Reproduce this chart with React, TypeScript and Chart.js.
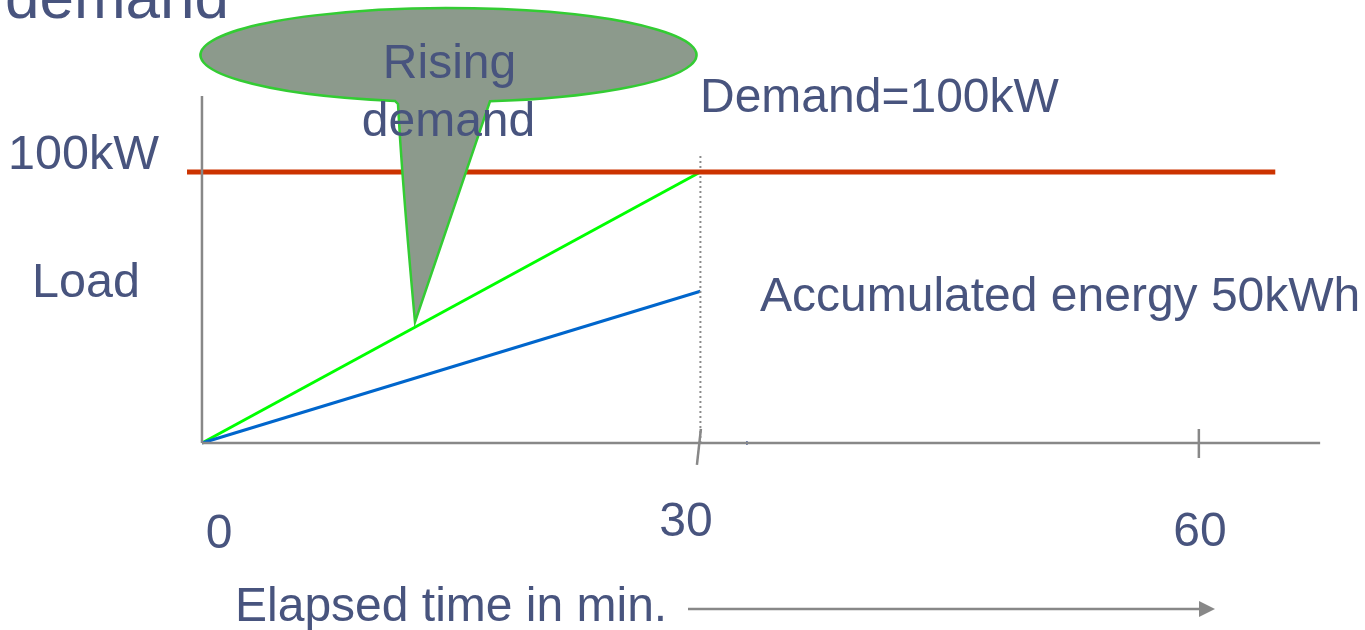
import React, { useEffect, useRef } from "react";
import { Chart, registerables } from "chart.js";

Chart.register(...registerables);

// ---- data (minutes / kW) ----
const tickMinutes = [0, 30, 60];
const tickLabels = ["0", "30", "60"];
const demandLineX = [-0.9, 64.6];
const demandKW = 100;
const risingX = [0, 30];
const risingY = [0, 100];
const energyX = [0, 30];
const energyY = [0, 56];
const markerTop = 106;
const xAxisEnd = 67.3;
const yAxisTop = 128;

// ---- layout (pixels) ----
const W = 1365;
const H = 630;
const PX_ZERO = 202;
const PX_PER_MIN = 16.617;
const PY_ZERO = 443;
const PY_PER_KW = 2.71;
const X_MIN = -12;
const X_MAX = 70;
const Y_MIN = -69;
const Y_MAX = 163.4;

const TEXT = "#48547E";
const GRAY = "#888888";
const FONT = "'Liberation Sans', Arial, sans-serif";

const labels: { t: string; x: number; y: number; size: number; align: CanvasTextAlign }[] = [
  { t: "demand", x: 5, y: 18, size: 62, align: "left" },
  { t: "100kW", x: 8, y: 169, size: 48.5, align: "left" },
  { t: "Load", x: 32, y: 297, size: 48.5, align: "left" },
  { t: "Demand=100kW", x: 700, y: 112, size: 48, align: "left" },
  { t: "Accumulated energy 50kWh", x: 760, y: 311, size: 48, align: "left" },
  { t: "Elapsed time in min.", x: 235, y: 621, size: 48, align: "left" },
];
const tickLabelPos = [
  { x: 219, y: 548 },
  { x: 686, y: 536 },
  { x: 1200, y: 546 },
];

const overlay = {
  id: "overlay",
  afterDatasetsDraw(chart: any) {
    const ctx: CanvasRenderingContext2D = chart.ctx;
    ctx.save();
    // callout bubble
    const cx = 448.5, cy = 55, rx = 248, ry = 47;
    const tip = { x: 415, y: 322 };
    const tL = (102.46 * Math.PI) / 180;
    const tR = (80.37 * Math.PI) / 180;
    ctx.beginPath();
    ctx.moveTo(tip.x, tip.y);
    ctx.quadraticCurveTo(402, 180, 398, 104);
    ctx.lineTo(cx + rx * Math.cos(tL), cy + ry * Math.sin(tL));
    ctx.ellipse(cx, cy, rx, ry, 0, tL, tR + Math.PI * 2, false);
    ctx.lineTo(tip.x, tip.y);
    ctx.closePath();
    ctx.fillStyle = "#8C9A8C";
    ctx.fill();
    ctx.strokeStyle = "#33CC33";
    ctx.lineWidth = 2.5;
    ctx.lineJoin = "miter";
    ctx.stroke();

    ctx.fillStyle = TEXT;
    ctx.textBaseline = "alphabetic";
    ctx.font = `48px ${FONT}`;
    ctx.textAlign = "center";
    ctx.fillText("Rising", 449.5, 78);
    ctx.fillText("demand", 448.5, 136);

    for (const l of labels) {
      ctx.font = `${l.size}px ${FONT}`;
      ctx.textAlign = l.align;
      ctx.fillText(l.t, l.x, l.y);
    }
    ctx.font = `48px ${FONT}`;
    ctx.textAlign = "center";
    tickLabels.forEach((t, i) => {
      ctx.fillText(t, tickLabelPos[i].x, tickLabelPos[i].y);
    });

    // arrow after axis title
    ctx.strokeStyle = GRAY;
    ctx.fillStyle = GRAY;
    ctx.lineWidth = 2.5;
    ctx.beginPath();
    ctx.moveTo(688, 609);
    ctx.lineTo(1200, 609);
    ctx.stroke();
    ctx.beginPath();
    ctx.moveTo(1199, 601);
    ctx.lineTo(1215, 609);
    ctx.lineTo(1199, 617);
    ctx.closePath();
    ctx.fill();
    ctx.restore();
  },
};

const seg = (x: number[], y: number[]) => x.map((v, i) => ({ x: v, y: y[i] }));

export default function App() {
  const ref = useRef<HTMLCanvasElement>(null);
  useEffect(() => {
    if (!ref.current) return;
    const left = PX_ZERO + X_MIN * PX_PER_MIN;
    const right = W - (PX_ZERO + X_MAX * PX_PER_MIN);
    const top = PY_ZERO - Y_MAX * PY_PER_KW;
    const bottom = H - (PY_ZERO - Y_MIN * PY_PER_KW);
    const line = (data: any[], color: string, width: number, extra: any = {}) => ({
      data,
      showLine: true,
      borderColor: color,
      backgroundColor: color,
      borderWidth: width,
      pointRadius: 0,
      fill: false,
      ...extra,
    });
    const chart = new Chart(ref.current, {
      type: "scatter",
      data: {
        datasets: [
          line(seg([0, 0], [0, yAxisTop]), GRAY, 2.5),
          line(seg([0, xAxisEnd], [0, 0]), GRAY, 2.5),
          line(seg([tickMinutes[1] + 0.03, tickMinutes[1] - 0.21], [5.2, -8.1]), GRAY, 2.5),
          line(seg([tickMinutes[2], tickMinutes[2]], [5.2, -5.5]), GRAY, 2.5),
          line(seg([32.8, 32.8], [0.7, -0.7]), "#5A6FA8", 1),
          line(seg(demandLineX, [demandKW, demandKW]), "#CC3300", 5),
          line(seg([30, 30], [0, markerTop]), "#8A8A8A", 2, { borderDash: [2, 3] }),
          line(seg(energyX, energyY), "#0066CC", 3),
          line(seg(risingX, risingY), "#00FF00", 3),
        ],
      },
      options: {
        animation: false,
        responsive: false,
        layout: { padding: { left, right, top, bottom } },
        scales: {
          x: { type: "linear", min: X_MIN, max: X_MAX, display: false },
          y: { type: "linear", min: Y_MIN, max: Y_MAX, display: false },
        },
        plugins: { legend: { display: false }, tooltip: { enabled: false } },
      },
      plugins: [overlay],
    });
    return () => chart.destroy();
  }, []);
  return (
    <div style={{ position: "fixed", left: 0, top: 0, width: W, height: H, background: "#fff" }}>
      <canvas ref={ref} width={W} height={H} style={{ width: W, height: H, display: "block" }} />
    </div>
  );
}
